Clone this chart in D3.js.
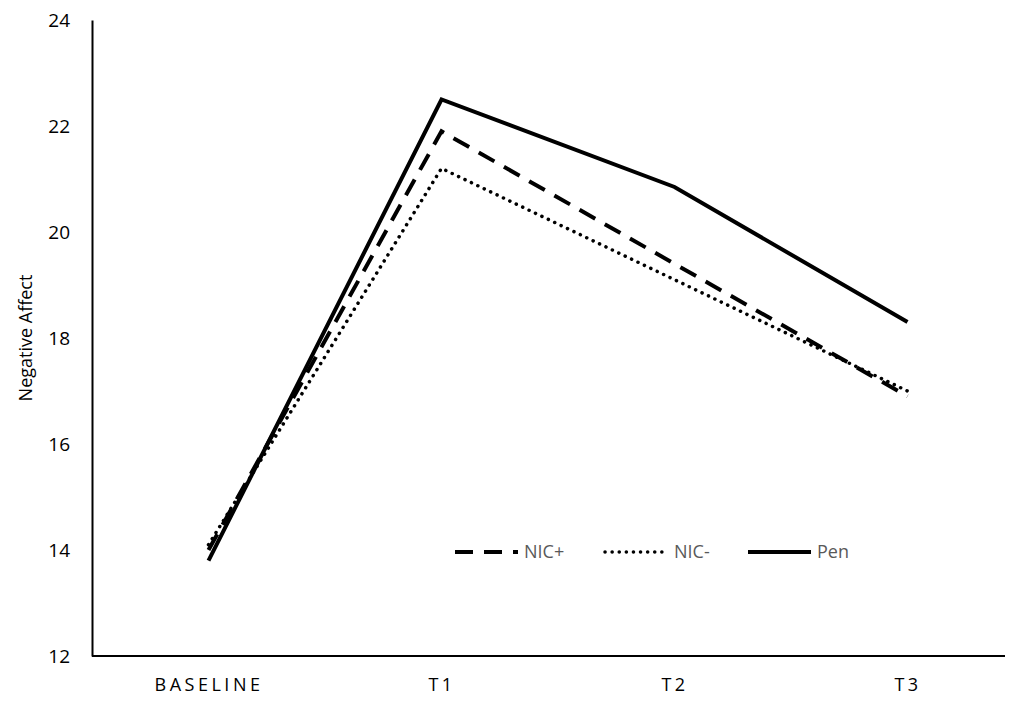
<!DOCTYPE html>
<html>
<head>
<meta charset="utf-8">
<script src="https://cdn.jsdelivr.net/npm/d3@7"></script>
<style>
  body { margin: 0; background: #fff; }
  text { font-family: 'Open Sans', 'Noto Sans', sans-serif; }
</style>
</head>
<body>
<script>
const width = 1017
const height = 703

const categories = ['BASELINE', 'T1', 'T2', 'T3']
const nicPlus = [14.0, 21.9, 19.4, 16.9]
const nicMinus = [14.1, 21.2, 19.1, 17.0]
const pen = [13.8, 22.5, 20.85, 18.3]
const yTicks = [12, 14, 16, 18, 20, 22, 24]

const series = [
  { name: 'NIC+', values: nicPlus, dash: '18,11', cap: 'butt' },
  { name: 'NIC-', values: nicMinus, dash: '0.1,7', cap: 'round' },
  { name: 'Pen', values: pen, dash: null, cap: 'butt' }
]

const margin = { top: 20, right: 12, bottom: 47, left: 92 }

const svg = d3.select('body').append('svg')
  .attr('width', width)
  .attr('height', height)

// categories sit 233px apart, the first one 116px in from the y axis
const x = d3.scalePoint()
  .domain(categories)
  .range([margin.left, margin.left + 932])
  .padding(0.5)

const y = d3.scaleLinear()
  .domain([12, 24])
  .range([height - margin.bottom, margin.top])

// y axis
svg.append('g')
  .attr('transform', `translate(${margin.left},0)`)
  .call(d3.axisLeft(y).tickValues(yTicks).tickSize(0).tickPadding(22))
  .call(g => g.select('.domain').attr('stroke', '#000').attr('stroke-width', 2))
  .call(g => g.selectAll('text').attr('font-size', 19).attr('fill', '#000'))

// x axis
svg.append('g')
  .attr('transform', `translate(0,${height - margin.bottom})`)
  .call(d3.axisBottom(x).tickSize(0).tickPadding(22))
  .call(g => g.select('.domain').attr('stroke', '#000').attr('stroke-width', 2).attr('d', `M${margin.left},0H${width - margin.right}`))
  .call(g => g.selectAll('text').attr('font-size', 18).attr('fill', '#000').attr('letter-spacing', 3.5))

svg.append('text')
  .attr('transform', `translate(32,${y(18)}) rotate(-90)`)
  .attr('text-anchor', 'middle')
  .attr('font-size', 18)
  .attr('fill', '#000')
  .text('Negative Affect')

const line = d3.line()
  .x((d, i) => x(categories[i]))
  .y(d => y(d))

svg.append('g').selectAll('path')
  .data(series)
  .enter()
  .append('path')
  .attr('d', d => line(d.values))
  .attr('fill', 'none')
  .attr('stroke', '#000')
  .attr('stroke-width', d => d.name === 'NIC-' ? 3.5 : 4)
  .attr('stroke-dasharray', d => d.dash)
  .attr('stroke-linecap', d => d.cap)
  .attr('stroke-linejoin', 'miter')

// legend
const legendY = 552
const legendX = [455, 605, 748]
const legend = svg.append('g').selectAll('g')
  .data(series)
  .enter()
  .append('g')
  .attr('transform', (d, i) => `translate(${legendX[i]},${legendY})`)

legend.append('line')
  .attr('x1', 0).attr('x2', 63)
  .attr('stroke', '#000')
  .attr('stroke-width', d => d.name === 'NIC-' ? 3.5 : 4)
  .attr('stroke-dasharray', d => d.dash)
  .attr('stroke-linecap', d => d.cap)

legend.append('text')
  .attr('x', 69)
  .attr('dy', '0.35em')
  .attr('font-size', 18)
  .attr('fill', '#595959')
  .text(d => d.name)
</script>
</body>
</html>
